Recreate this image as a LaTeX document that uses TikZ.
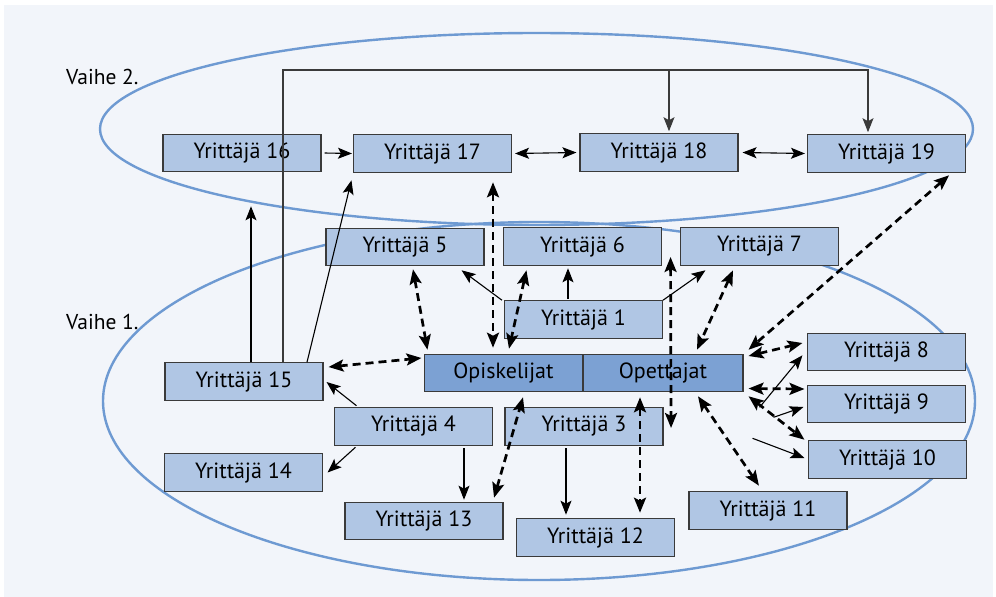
\documentclass[tikz,border=0pt]{standalone}
\usepackage{fontspec}
\setmainfont{PT Sans}
\usetikzlibrary{arrows.meta,calc}
\definecolor{bgc}{HTML}{F2F5FA}
\definecolor{boxc}{HTML}{B0C6E4}
\definecolor{darkc}{HTML}{7CA1D3}
\definecolor{ringc}{HTML}{6E9AD2}
\definecolor{edgec}{HTML}{3A3A3A}
\begin{document}
\begin{tikzpicture}[x=1pt,y=-1pt,
  box/.style={draw=edgec, line width=1.1pt, fill=boxc, minimum width=158pt,
    minimum height=37.5pt, inner sep=0pt, font=\fontsize{22}{24}\selectfont},
  dbox/.style={box, fill=darkc},
  ring/.style={draw=ringc, line width=2.4pt},
  sarr/.style={draw=black, line width=1.1pt, -{Stealth[length=14pt,width=11pt,inset=3pt]}},
  sboth/.style={sarr, {Stealth[length=14pt,width=11pt,inset=3pt]}-{Stealth[length=14pt,width=11pt,inset=3pt]}},
  darr/.style={draw=black, line width=2.7pt, dash pattern=on 8pt off 5pt,
    {Stealth[length=15pt,width=12pt,inset=3pt]}-{Stealth[length=15pt,width=12pt,inset=3pt]}},
  lbl/.style={anchor=west, inner sep=0pt, font=\fontsize{21.5}{24}\selectfont}
]
\useasboundingbox (0,0) rectangle (996,597);
\fill[white] (0,0) rectangle (996,597);
\fill[bgc] (4,5) rectangle (993,597);

% the two phases
\draw[ring] (536.5,129) ellipse [x radius=436.5pt, y radius=96pt];
\draw[ring] (539,401) ellipse [x radius=436pt, y radius=179pt];
\node[lbl] (v2) at (66,77) {Vaihe 2.};
\node[lbl] (v1) at (66,322) {Vaihe 1.};

% entrepreneurs and the two groups
\node[box] (y16) at (242,153) {Yrittäjä 16};
\node[box] (y17) at (432.5,153.5) {Yrittäjä 17};
\node[box] (y18) at (659,152.5) {Yrittäjä 18};
\node[box] (y19) at (886.5,153.5) {Yrittäjä 19};
\node[box] (y5) at (405,247) {Yrittäjä 5};
\node[box] (y6) at (582.5,246.5) {Yrittäjä 6};
\node[box] (y7) at (759.5,246.5) {Yrittäjä 7};
\node[box] (y1) at (583.5,319.5) {Yrittäjä 1};
\node[dbox] (opis) at (503.5,373) {Opiskelijat};
\node[dbox, minimum width=160pt] (opet) at (663,373) {Opettajat};
\node[box] (y15) at (244,381.5) {Yrittäjä 15};
\node[box] (y4) at (413.5,426.5) {Yrittäjä 4};
\node[box] (y14) at (243.5,472.5) {Yrittäjä 14};
\node[box] (y13) at (424,521) {Yrittäjä 13};
\node[box] (y3) at (584,426.5) {Yrittäjä 3};
\node[box] (y12) at (595.5,537.5) {Yrittäjä 12};
\node[box] (y11) at (768,510.5) {Yrittäjä 11};
\node[box] (y8) at (886.5,352) {Yrittäjä 8};
\node[box] (y9) at (886.5,404) {Yrittäjä 9};
\node[box] (y10) at (887.5,459.5) {Yrittäjä 10};

% solid links, phase 2
\draw[sarr] ($(y16.east)+(3,0)$) -- ($(y17.west)+(-1,0)$);
\draw[sboth] ($(y17.east)+(3,0)$) -- ($(y18.west)+(-3,0)$);
\draw[sboth] ($(y18.east)+(4,0)$) -- ($(y19.west)+(-2,0)$);
\coordinate (bus) at (283,70);
\coordinate (t18) at ($(y18.north)+(10,-2)$);
\coordinate (t19) at ($(y19.north)+(-18.5,-2)$);
\draw[sarr, draw=edgec] ($(y15.north)+(39,0)$) -- (bus) -| (t19);
\draw[sarr, draw=edgec] (t18 |- bus) -- (t18);
\draw[sarr] ($(y15.north)+(7,0)$) -- ($(y16.south)+(9,34)$);
\draw[sarr] ($(y15.north)+(63,0)$) -- ($(y17.south west)+(-1.5,7.5)$);

% solid links, phase 1
\draw[sarr] ($(y1.north west)+(-2,0)$) -- ($(y5.south east)+(-23,4)$);
\draw[sarr] ($(y1.north)+(-15.5,-1)$) -- ($(y6.south)+(-14.5,2.5)$);
\draw[sarr] (y1.north east) -- ($(y7.south west)+(25.5,4.5)$);
\draw[sarr] ($(y4.north west)+(22.5,-1.5)$) -- ($(y15.east)+(3,0.5)$);
\draw[sarr] ($(y4.south west)+(21.5,1.5)$) -- ($(y14.east)+(4.5,0)$);
\draw[sarr] ($(y4.south)+(50.5,2.5)$) -- ($(y13.north)+(40,-2)$);
\draw[sarr] ($(y3.south)+(-18,2.5)$) -- ($(y12.north)+(-29.5,-3.5)$);
\draw[sarr] ($(opet.south east)+(16,15)$) -- ($(y8.south west)+(-4.5,-16)$);
\draw[sarr] ($(opet.south east)+(30,25)$) -- ($(y9.west)+(-3.5,3)$);
\draw[sarr] ($(opet.south east)+(9,46)$) -- ($(y10.west)+(-3.5,-1.5)$);

% dashed two-way links
\draw[darr] ($(y15.east)+(5,-14.5)$) -- ($(opis.west)+(-2.5,-15)$);
\draw[darr] ($(y5.south)+(8,3)$) -- ($(opis.north west)+(3.5,-4)$);
\draw[darr] ($(y17.south)+(60.5,9.5)$) -- ($(opis.north)+(-10.5,-6)$);
\draw[darr] ($(y6.south west)+(23.5,4.5)$) -- ($(opis.north)+(5.5,-5)$);
\draw[darr] ($(y13.north east)+(-9.5,-4)$) -- ($(opis.south)+(19.5,5)$);
\draw[darr] ($(y6.east)+(8.5,10.5)$) -- ($(y3.east)+(7.5,1.5)$);
\draw[darr] ($(y7.south)+(-26.5,4.5)$) -- ($(opet.north)+(34,-4)$);
\draw[darr] ($(y19.south east)+(-17,2.5)$) -- ($(opet.north east)+(5,-4)$);
\draw[darr] ($(opet.east)+(5,-17)$) -- ($(y8.west)+(-4.5,-9)$);
\draw[darr] ($(opet.east)+(5,15.5)$) -- ($(y9.west)+(-2.5,-15)$);
\draw[darr] ($(opet.south east)+(5,4)$) -- ($(y10.north west)+(-3.5,-0.5)$);
\draw[darr] ($(opet.south)+(35,4)$) -- ($(y11.north west)+(70.5,-5.5)$);
\draw[darr] ($(opet.south)+(-23,5)$) -- ($(y12.north)+(44.5,-5.5)$);
\end{tikzpicture}
\end{document}
